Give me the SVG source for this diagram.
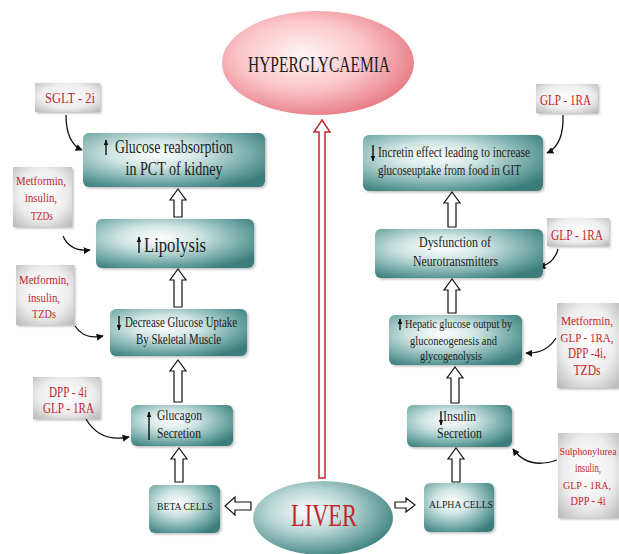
<svg xmlns="http://www.w3.org/2000/svg" width="619" height="554" viewBox="0 0 619 554">
<defs>
<radialGradient id="teal" cx="40%" cy="38%" r="72%">
<stop offset="0" stop-color="#ffffff"/>
<stop offset="0.35" stop-color="#cfe5e3"/>
<stop offset="0.75" stop-color="#6fa7a4"/>
<stop offset="1" stop-color="#3b7d7a"/>
</radialGradient>
<radialGradient id="pink" cx="42%" cy="42%" r="65%">
<stop offset="0" stop-color="#fff5f6"/>
<stop offset="0.5" stop-color="#fbc6ca"/>
<stop offset="1" stop-color="#e5737d"/>
</radialGradient>
<radialGradient id="liver" cx="40%" cy="40%" r="65%">
<stop offset="0" stop-color="#ffffff"/>
<stop offset="0.45" stop-color="#b7d6d4"/>
<stop offset="1" stop-color="#3e827f"/>
</radialGradient>
<radialGradient id="grey" cx="50%" cy="45%" r="70%">
<stop offset="0" stop-color="#ffffff"/>
<stop offset="0.6" stop-color="#ededed"/>
<stop offset="1" stop-color="#bdbdbd"/>
</radialGradient>
<filter id="sh" x="-10%" y="-10%" width="130%" height="130%">
<feDropShadow dx="1.5" dy="1.5" stdDeviation="1.2" flood-color="#000" flood-opacity="0.25"/>
</filter>
<marker id="ah" viewBox="0 0 10 10" refX="9" refY="5" markerWidth="7" markerHeight="7" markerUnits="userSpaceOnUse" orient="auto">
<path d="M0,0 L10,5 L0,10 Z" fill="#111"/>
</marker>
<marker id="sa" viewBox="0 0 10 10" refX="9" refY="5" markerWidth="6" markerHeight="6" markerUnits="userSpaceOnUse" orient="auto">
<path d="M0,1 L10,5 L0,9 Z" fill="#111"/>
</marker>
<style>
.box{fill:url(#teal);filter:url(#sh);}
.drug{fill:url(#grey);filter:url(#sh);}
.t{font-family:"Liberation Serif","Times New Roman",serif;fill:#1c1c1c;text-anchor:middle;}
.r{font-family:"Liberation Serif","Times New Roman",serif;fill:#c1272d;text-anchor:middle;}
.hol{fill:#fff;stroke:#111;stroke-width:1.2;}
.cur{fill:none;stroke:#111;stroke-width:1.3;marker-end:url(#ah);}
.ta{stroke:#111;stroke-width:1.4;marker-end:url(#sa);}
</style>
</defs>
<rect width="619" height="554" fill="#ffffff"/>

<g id="hyperglycaemia">
<ellipse cx="318" cy="63" rx="96" ry="52" fill="url(#pink)"/>
<text class="t" x="319" y="72" font-size="23" textLength="142" lengthAdjust="spacingAndGlyphs">HYPERGLYCAEMIA</text>
</g>

<g id="connectors">
<path d="M322,120 L330,132 L325,132 L325,478 L319,478 L319,132 L314,132 Z" fill="#fff" stroke="#c1272d" stroke-width="1.5"/>
<path class="hol" d="M179,448 L187,459 L183,459 L183,482 L175,482 L175,459 L171,459 Z"/>
<path class="hol" d="M178,360 L186,371 L182,371 L182,402 L174,402 L174,371 L170,371 Z"/>
<path class="hol" d="M178,269 L186,280 L182,280 L182,307 L174,307 L174,280 L170,280 Z"/>
<path class="hol" d="M178,189 L186,200 L182,200 L182,217 L174,217 L174,200 L170,200 Z"/>
<path class="hol" d="M456,448 L464,459 L460,459 L460,482 L452,482 L452,459 L448,459 Z"/>
<path class="hol" d="M455,367 L463,378 L459,378 L459,403 L451,403 L451,378 L447,378 Z"/>
<path class="hol" d="M452,279 L460,290 L456,290 L456,313 L448,313 L448,290 L444,290 Z"/>
<path class="hol" d="M452,192 L460,203 L456,203 L456,227 L448,227 L448,203 L444,203 Z"/>
<path class="hol" d="M225,506 L235,497 L235,502 L251,502 L251,510 L235,510 L235,515 Z"/>
<path class="hol" d="M415,505 L406,498 L406,502 L395,502 L395,508 L406,508 L406,512 Z"/>
<path class="cur" d="M66,115 Q66,143 82,150"/>
<path class="cur" d="M63,236 Q70,252 90,250"/>
<path class="cur" d="M75,326 Q84,340 103,336"/>
<path class="cur" d="M86,419 Q100,443 129,437"/>
<path class="cur" d="M563,115 Q564,145 547,153"/>
<path class="cur" d="M558,249 Q554,264 539,267"/>
<path class="cur" d="M556,338 Q546,354 526,353"/>
<path class="cur" d="M557,460 Q528,470 513,449"/>
</g>

<g id="glucose-reabsorption">
<rect class="box" x="83" y="133" width="182" height="54" rx="6"/>
<line class="ta" x1="106" y1="155" x2="106" y2="140"/>
<text class="t" x="174" y="153" font-size="18" textLength="118" lengthAdjust="spacingAndGlyphs">Glucose reabsorption</text>
<text class="t" x="174" y="175" font-size="18" textLength="97" lengthAdjust="spacingAndGlyphs">in PCT of kidney</text>
</g>

<g id="lipolysis">
<rect class="box" x="96" y="219" width="158" height="49" rx="6"/>
<line class="ta" x1="139" y1="253" x2="139" y2="237"/>
<text class="t" x="175" y="252" font-size="21" textLength="62" lengthAdjust="spacingAndGlyphs">Lipolysis</text>
</g>

<g id="glucose-uptake">
<rect class="box" x="110" y="309" width="137" height="47" rx="6"/>
<line class="ta" x1="119" y1="316" x2="119" y2="330"/>
<text class="t" x="181" y="327" font-size="14" textLength="112" lengthAdjust="spacingAndGlyphs">Decrease Glucose Uptake</text>
<text class="t" x="178.5" y="344" font-size="14" textLength="85" lengthAdjust="spacingAndGlyphs">By Skeletal Muscle</text>
</g>

<g id="glucagon">
<rect class="box" x="131" y="405" width="102" height="41" rx="6"/>
<line class="ta" x1="149" y1="440" x2="149" y2="412"/>
<text class="t" x="179.5" y="420" font-size="15" textLength="45" lengthAdjust="spacingAndGlyphs">Glucagon</text>
<text class="t" x="179" y="438" font-size="15" textLength="44" lengthAdjust="spacingAndGlyphs">Secretion</text>
</g>

<g id="beta-cells">
<rect class="box" x="149" y="485" width="71" height="48" rx="6"/>
<text class="t" x="185" y="510" font-size="11" textLength="56" lengthAdjust="spacingAndGlyphs">BETA CELLS</text>
</g>

<g id="liver">
<ellipse cx="323" cy="518" rx="70" ry="37" fill="url(#liver)"/>
<text class="r" x="324" y="526" font-size="32" textLength="66" lengthAdjust="spacingAndGlyphs">LIVER</text>
</g>

<g id="alpha-cells">
<rect class="box" x="424" y="483" width="70" height="49" rx="6"/>
<text class="t" x="461" y="508" font-size="11" textLength="64" lengthAdjust="spacingAndGlyphs">ALPHA CELLS</text>
</g>

<g id="insulin">
<rect class="box" x="407" y="405" width="105" height="42" rx="6"/>
<line class="ta" x1="441" y1="411" x2="441" y2="425"/>
<text class="t" x="459.5" y="421" font-size="15" textLength="33" lengthAdjust="spacingAndGlyphs">Insulin</text>
<text class="t" x="459.5" y="438" font-size="15" textLength="45" lengthAdjust="spacingAndGlyphs">Secretion</text>
</g>

<g id="hepatic">
<rect class="box" x="389" y="315" width="133" height="50" rx="6"/>
<line class="ta" x1="400" y1="330" x2="400" y2="319"/>
<text class="t" x="458.5" y="328" font-size="13" textLength="107" lengthAdjust="spacingAndGlyphs">Hepatic glucose output by</text>
<text class="t" x="453.5" y="345" font-size="13" textLength="87" lengthAdjust="spacingAndGlyphs">gluconeogenesis and</text>
<text class="t" x="451" y="360" font-size="13" textLength="62" lengthAdjust="spacingAndGlyphs">glycogenolysis</text>
</g>

<g id="neurotransmitters">
<rect class="box" x="375" y="229" width="168" height="49" rx="6"/>
<text class="t" x="455" y="247" font-size="15" textLength="72" lengthAdjust="spacingAndGlyphs">Dysfunction of</text>
<text class="t" x="455.5" y="266" font-size="15" textLength="85" lengthAdjust="spacingAndGlyphs">Neurotransmitters</text>
</g>

<g id="incretin">
<rect class="box" x="363" y="135" width="180" height="56" rx="6"/>
<line class="ta" x1="373" y1="145" x2="373" y2="161"/>
<text class="t" x="454" y="157" font-size="14" textLength="152" lengthAdjust="spacingAndGlyphs">Incretin effect leading to increase</text>
<text class="t" x="449.5" y="175" font-size="14" textLength="143" lengthAdjust="spacingAndGlyphs">glucoseuptake from food in GIT</text>
</g>

<g id="drug-sglt2i">
<rect class="drug" x="35" y="83" width="65" height="29"/>
<text class="r" x="70" y="103" font-size="14" textLength="50" lengthAdjust="spacingAndGlyphs">SGLT - 2i</text>
</g>

<g id="drug-metformin-1">
<rect class="drug" x="13" y="167" width="59" height="60"/>
<text class="r" x="41" y="185" font-size="13" textLength="50" lengthAdjust="spacingAndGlyphs">Metformin,</text>
<text class="r" x="41" y="202" font-size="13" textLength="32" lengthAdjust="spacingAndGlyphs">insulin,</text>
<text class="r" x="42" y="220" font-size="13" textLength="22" lengthAdjust="spacingAndGlyphs">TZDs</text>
</g>

<g id="drug-metformin-2">
<rect class="drug" x="16" y="265" width="58" height="60"/>
<text class="r" x="44" y="284" font-size="13" textLength="50" lengthAdjust="spacingAndGlyphs">Metformin,</text>
<text class="r" x="44" y="302" font-size="13" textLength="32" lengthAdjust="spacingAndGlyphs">insulin,</text>
<text class="r" x="44" y="318" font-size="13" textLength="24" lengthAdjust="spacingAndGlyphs">TZDs</text>
</g>

<g id="drug-dpp4i">
<rect class="drug" x="33" y="377" width="67" height="42"/>
<text class="r" x="68" y="397" font-size="14" textLength="38" lengthAdjust="spacingAndGlyphs">DPP - 4i</text>
<text class="r" x="68.5" y="413" font-size="14" textLength="51" lengthAdjust="spacingAndGlyphs">GLP - 1RA</text>
</g>

<g id="drug-glp1ra-1">
<rect class="drug" x="536" y="84" width="62" height="29"/>
<text class="r" x="565.5" y="105" font-size="14" textLength="51" lengthAdjust="spacingAndGlyphs">GLP - 1RA</text>
</g>

<g id="drug-glp1ra-2">
<rect class="drug" x="547" y="218" width="62" height="28"/>
<text class="r" x="577" y="240" font-size="14" textLength="52" lengthAdjust="spacingAndGlyphs">GLP - 1RA</text>
</g>

<g id="drug-metformin-3">
<rect class="drug" x="557" y="303" width="62" height="85"/>
<text class="r" x="587" y="325" font-size="12" textLength="52" lengthAdjust="spacingAndGlyphs">Metformin,</text>
<text class="r" x="587" y="342" font-size="12" textLength="53" lengthAdjust="spacingAndGlyphs">GLP - 1RA,</text>
<text class="r" x="587" y="358" font-size="14" textLength="38" lengthAdjust="spacingAndGlyphs">DPP -4i,</text>
<text class="r" x="587" y="375" font-size="14" textLength="27" lengthAdjust="spacingAndGlyphs">TZDs</text>
</g>

<g id="drug-sulphonylurea">
<rect class="drug" x="558" y="433" width="61" height="85"/>
<text class="r" x="588" y="455" font-size="10" textLength="57" lengthAdjust="spacingAndGlyphs">Sulphonylurea</text>
<text class="r" x="588" y="472" font-size="13" textLength="26" lengthAdjust="spacingAndGlyphs">insulin,</text>
<text class="r" x="587" y="489" font-size="11" textLength="48" lengthAdjust="spacingAndGlyphs">GLP - 1RA,</text>
<text class="r" x="588" y="505" font-size="13" textLength="35" lengthAdjust="spacingAndGlyphs">DPP - 4i</text>
</g>
</svg>
